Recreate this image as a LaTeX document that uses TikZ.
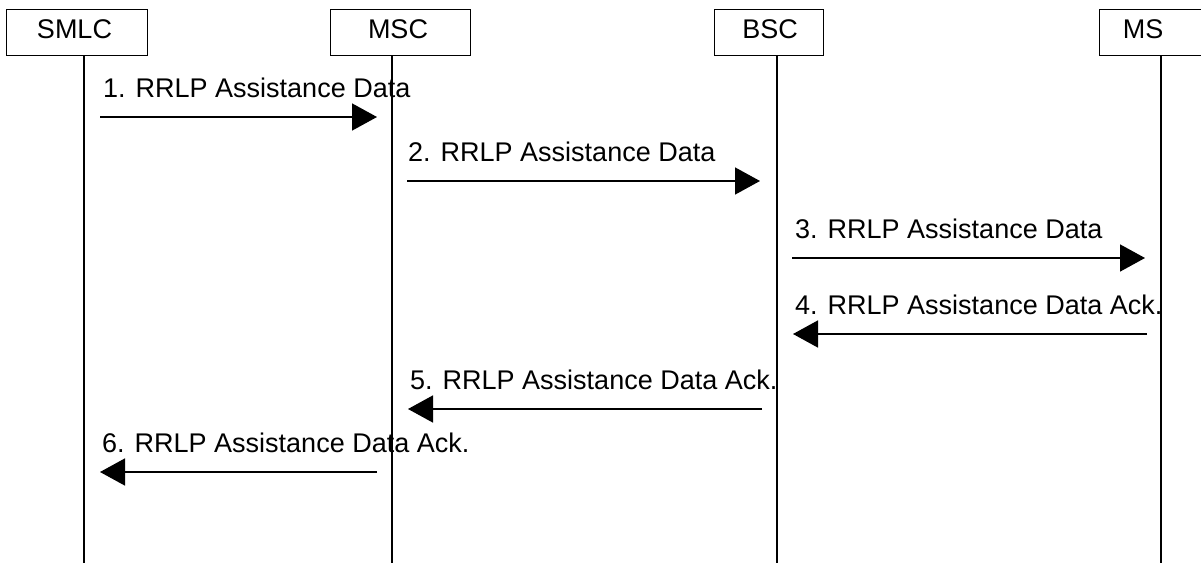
\documentclass[tikz,border=0pt]{standalone}
\usepackage{fontspec}
\setmainfont{Liberation Sans}
\usetikzlibrary{arrows.meta}
\begin{document}
\begin{tikzpicture}[x=1pt,y=-1pt,
  entity/.style={draw, line width=1pt, minimum height=46pt, inner sep=0pt},
  lbl/.style={anchor=base, font=\fontsize{27}{30}\selectfont, inner sep=0pt},
  msglbl/.style={anchor=base west, font=\fontsize{27}{30}\selectfont, inner sep=0pt},
  life/.style={line width=1.2pt},
  msg/.style={line width=1.6pt, -{Triangle[length=25pt,width=27pt]}}]
\useasboundingbox (0,0) rectangle (1201,562);
% entity boxes
\node[entity, minimum width=141pt] (smlc) at (76.5,32) {};
\node[entity, minimum width=140pt] (msc) at (400,32) {};
\node[entity, minimum width=109pt] (bsc) at (768.5,32) {};
\node[entity, minimum width=110pt] (ms) at (1154,32) {};
\node[lbl] (smlcT) at (74.5,38) {SMLC};
\node[lbl] (mscT) at (398,38) {MSC};
\node[lbl] (bscT) at (770,38) {BSC};
\node[lbl] (msT) at (1143,38) {MS};
% lifelines
\coordinate (smlcA) at (84,55);   \coordinate (smlcB) at (84,565);
\coordinate (mscA) at (392,55);   \coordinate (mscB) at (392,565);
\coordinate (bscA) at (777,55);   \coordinate (bscB) at (777,565);
\coordinate (msA) at (1161,55);   \coordinate (msB) at (1161,565);
\draw[life] (smlcA) -- (smlcB);
\draw[life] (mscA) -- (mscB);
\draw[life] (bscA) -- (bscB);
\draw[life] (msA) -- (msB);
% message endpoints
\coordinate (m1s) at (100,117);  \coordinate (m1e) at (377,117);
\coordinate (m2s) at (407,181);  \coordinate (m2e) at (760,181);
\coordinate (m3s) at (792,258);  \coordinate (m3e) at (1145,258);
\coordinate (m4s) at (1147,334); \coordinate (m4e) at (793,334);
\coordinate (m5s) at (762,409);  \coordinate (m5e) at (408,409);
\coordinate (m6s) at (377,472);  \coordinate (m6e) at (100,472);
\draw[msg] (m1s) -- (m1e);
\draw[msg] (m2s) -- (m2e);
\draw[msg] (m3s) -- (m3e);
\draw[msg] (m4s) -- (m4e);
\draw[msg] (m5s) -- (m5e);
\draw[msg] (m6s) -- (m6e);
% message labels
\node[msglbl] (l1) at (103,97) {1. RRLP Assistance Data};
\node[msglbl] (l2) at (408,161) {2. RRLP Assistance Data};
\node[msglbl] (l3) at (795,238) {3. RRLP Assistance Data};
\node[msglbl] (l4) at (795,314) {4. RRLP Assistance Data Ack.};
\node[msglbl] (l5) at (410,389) {5. RRLP Assistance Data Ack.};
\node[msglbl] (l6) at (102,452) {6. RRLP Assistance Data Ack.};
\end{tikzpicture}
\end{document}
